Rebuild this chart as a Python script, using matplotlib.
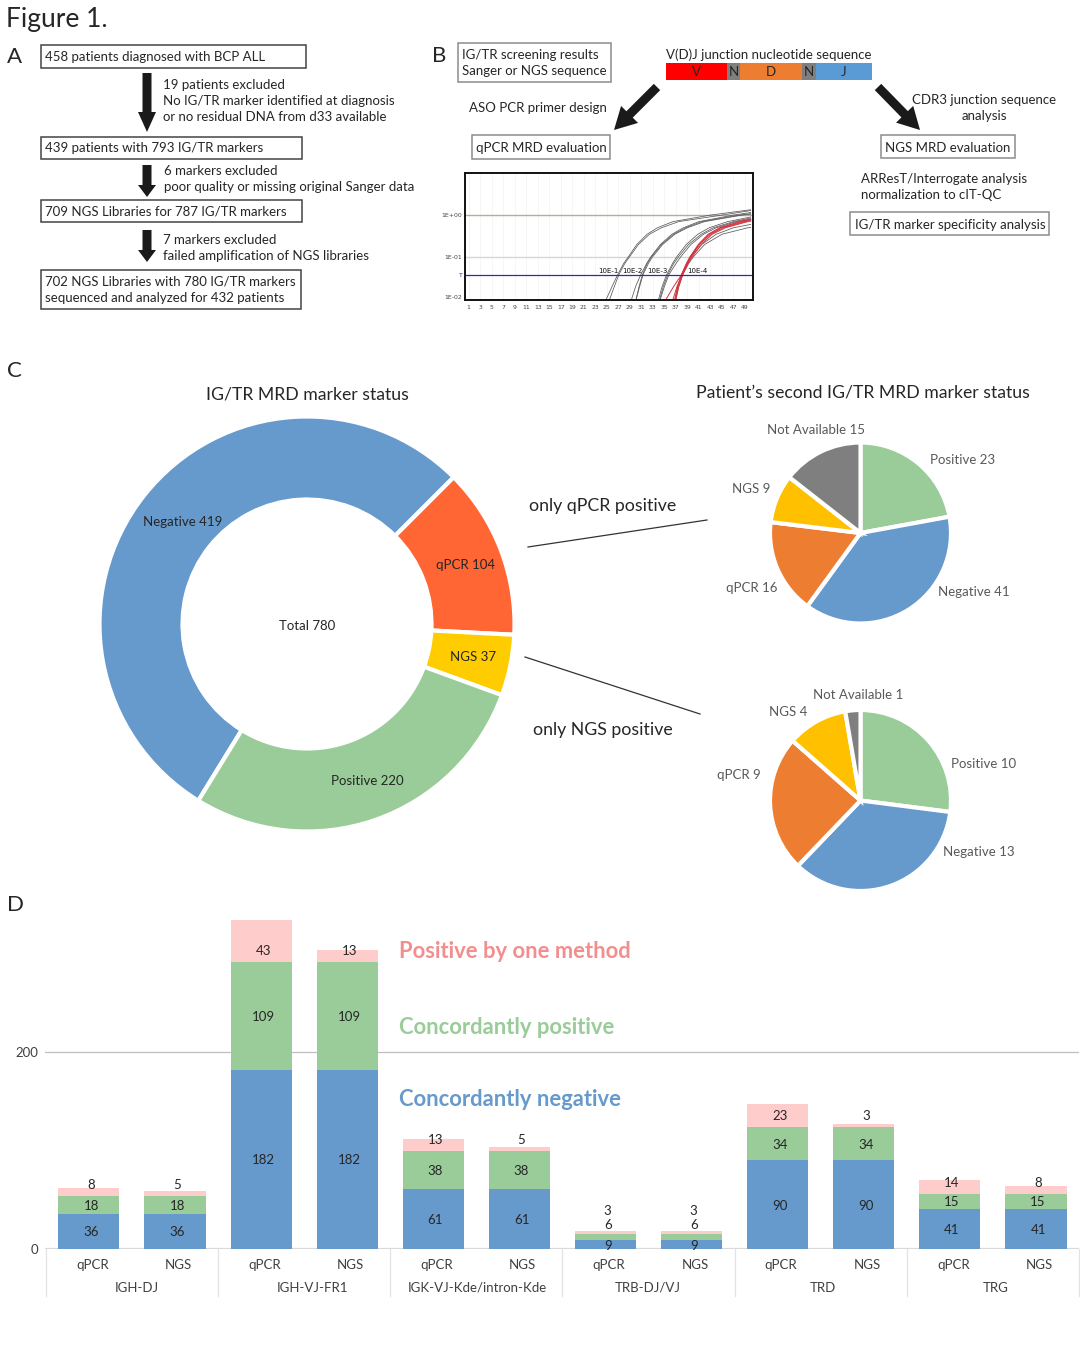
import numpy as np
import matplotlib
matplotlib.use('Agg')
import matplotlib.pyplot as plt
from matplotlib.patches import Rectangle, FancyArrow

plt.rcParams['font.family'] = ['Lato', 'DejaVu Sans']

W, H = 1080, 1347

# panel C
donut_names = ['Negative', 'qPCR', 'NGS', 'Positive']
donut_values = [419, 104, 37, 220]
pie1_names = ['Positive', 'Negative', 'qPCR', 'NGS', 'Not Available']
pie1_values = [23, 41, 16, 9, 15]
# the drawn slices of this pie do not quite follow its printed numbers
pie1_slices = [23, 39.4, 17.6, 9, 15]
pie2_values = [10, 13, 9, 4, 1]

# panel D
method_labels = ['qPCR', 'NGS'] * 6
group_labels = ['IGH-DJ', 'IGH-VJ-FR1', 'IGK-VJ-Kde/intron-Kde', 'TRB-DJ/VJ', 'TRD', 'TRG']
negative = [36, 36, 182, 182, 61, 61, 9, 9, 90, 90, 41, 41]
concordant = [18, 18, 109, 109, 38, 38, 6, 6, 34, 34, 15, 15]
one_method = [8, 5, 43, 13, 13, 5, 3, 3, 23, 3, 14, 8]

# panel B, amplification curves: cycle where each curve passes these levels
qpcr_levels = [0.01, 0.02, 0.0386, 0.07, 0.1, 0.2, 0.35, 0.5, 0.7, 1.0]
nan = np.nan
gray_curves = [
    ([24.9, 25.9, 26.9, 27.9, 28.7, 30.2, 32.0, 33.8, 36.5, 43.0], 1.34),
    ([25.5, 26.3, 27.1, 28.1, 28.9, 30.5, 32.4, 34.5, 37.5, 45.0], 1.28),
    ([29.3, 30.0, 30.9, 31.9, 32.6, 34.3, 36.3, 38.3, 41.0, 47.0], 1.15),
    ([30.1, 30.6, 31.2, 32.0, 32.7, 34.5, 36.6, 38.7, 41.5, 48.0], 1.08),
    ([30.1, 30.7, 31.3, 32.2, 32.9, 34.7, 36.8, 39.0, 42.0, 48.5], 1.05),
    ([34.0, 34.6, 35.4, 36.4, 37.1, 38.8, 40.8, 42.8, 46.0, nan], 0.90),
    ([34.2, 34.8, 35.6, 36.6, 37.4, 39.2, 41.4, 43.5, 47.0, nan], 0.85),
    ([34.3, 35.0, 35.8, 37.0, 37.8, 39.6, 41.8, 44.0, 47.5, nan], 0.80),
    ([36.9, 37.3, 38.0, 38.9, 39.6, 41.5, 44.0, 47.0, nan, nan], 0.60),
    ([37.0, 37.5, 38.2, 39.2, 40.0, 42.0, 45.0, 49.5, nan, nan], 0.51),
]
red_curves = [
    ([35.3, 36.6, 38.0, 38.9, 39.5, 41.0, 42.8, 44.8, 48.5, nan], 0.78),
    ([36.8, 37.3, 38.0, 38.8, 39.4, 40.9, 42.6, 44.6, 48.0, nan], 0.80),
    ([36.5, 37.2, 38.1, 39.0, 39.6, 41.1, 43.0, 45.2, 49.0, nan], 0.74),
    ([37.0, 37.5, 38.2, 39.1, 39.8, 41.4, 43.3, 45.6, 49.5, nan], 0.72),
]
qpcr_ticks = list(range(1, 50, 2))

fig = plt.figure(figsize=(W / 100, H / 100), dpi=100, facecolor='white')


def px_axes(x0, y0, x1, y1, **kw):
    # axes from pixel box, y counted from the top
    return fig.add_axes([x0 / W, 1 - y1 / H, (x1 - x0) / W, (y1 - y0) / H], **kw)


# overlay for text, boxes and arrows
ov = fig.add_axes([0, 0, 1, 1], zorder=5)
ov.set_xlim(0, W)
ov.set_ylim(H, 0)
ov.axis('off')
ov.patch.set_alpha(0)

TXT = '#262626'
BASE = 9.55


def label(x, y, s, size=BASE, color=TXT, ha='left', **kw):
    ov.text(x, y + 1, s, fontsize=size, color=color, ha=ha, va='center', **kw)


def box(x0, y0, x1, y1, color='#444444'):
    ov.add_patch(Rectangle((x0, y0), x1 - x0, y1 - y0, fill=False, ec=color, lw=1.1))


def arrow(x0, y0, x1, y1, width=9, head=18, head_len=17):
    ov.add_patch(FancyArrow(x0, y0, x1 - x0, y1 - y0, width=width, head_width=head,
                            head_length=head_len, length_includes_head=True,
                            color='#1a1a1a', lw=0))


label(6, 19, 'Figure 1.', size=19)
label(7, 56, 'A', size=16)
label(432, 55, 'B', size=16)
label(7, 370, 'C', size=16)
label(7, 904, 'D', size=16)

# panel A
box(41, 45, 306, 68)
label(45, 56, '458 patients diagnosed with BCP ALL')
box(41, 137, 302, 159)
label(45, 147, '439 patients with 793 IG/TR markers')
box(41, 200, 302, 222)
label(45, 211, '709 NGS Libraries for 787 IG/TR markers')
box(41, 270, 301, 309)
label(45, 281, '702 NGS Libraries with 780 IG/TR markers')
label(45, 297, 'sequenced and analyzed for 432 patients')
arrow(147, 73, 147, 132, head_len=20)
arrow(147, 165, 147, 197, head_len=12)
arrow(147, 230, 147, 262, head_len=12)
label(163, 84, '19 patients excluded')
label(163, 100, 'No IG/TR marker identified at diagnosis')
label(163, 116, 'or no residual DNA from d33 available')
label(164, 170, '6 markers excluded')
label(164, 186, 'poor quality or missing original Sanger data')
label(163, 239, '7 markers excluded')
label(163, 255, 'failed amplification of NGS libraries')

# panel B
GB = '#8c8c8c'
box(458, 43, 611, 82, GB)
label(462, 54, 'IG/TR screening results')
label(462, 70, 'Sanger or NGS sequence')
label(666, 54, 'V(D)J junction nucleotide sequence')
for x0, x1, c, s in [(666, 727, '#ff0000', 'V'), (727, 740, '#7f7f7f', 'N'), (740, 802, '#ed7d31', 'D'),
                     (802, 816, '#7f7f7f', 'N'), (816, 872, '#5b9bd5', 'J')]:
    ov.add_patch(Rectangle((x0, 63), x1 - x0, 17, color=c, lw=0))
    label((x0 + x1) / 2, 71.5, s, ha='center')
label(469, 107, 'ASO PCR primer design')
arrow(657, 87, 614, 130, width=9, head=24, head_len=22)
arrow(878, 87, 920, 130, width=9, head=24, head_len=22)
label(984, 99, 'CDR3 junction sequence', ha='center')
label(984, 115, 'analysis', ha='center')
box(472, 135, 610, 159, GB)
label(476, 147, 'qPCR MRD evaluation')
box(881, 135, 1015, 158, GB)
label(885, 147, 'NGS MRD evaluation')
label(861, 178, 'ARResT/Interrogate analysis')
label(861, 194, 'normalization to cIT-QC')
box(850, 212, 1049, 235, GB)
label(855, 224, 'IG/TR marker specificity analysis')

# amplification plot
aq = px_axes(465, 173, 753, 300)
aq.set_yscale('log')
aq.set_xlim(0.36, 50.4)
aq.set_ylim(0.0096, 10)
for x in qpcr_ticks:
    aq.axvline(x, color='#f3f3f3', lw=0.5, zorder=0)
aq.axhline(1, color='#b5ad9d', lw=1)
aq.axhline(0.1, color='#d5d5d5', lw=1)
for curves, c, lw in [(gray_curves, '#5a5a5a', 0.55), (red_curves, '#d8303c', 0.7)]:
    for cycles, end in curves:
        xs = np.array(cycles + [50.0])
        ys = np.array(qpcr_levels + [end])
        keep = ~np.isnan(xs)
        aq.plot(xs[keep], ys[keep], color=c, lw=lw)
aq.axhline(0.0386, color='#2a2ab5', lw=0.9)
for x, s in [(25.3, '10E-1'), (29.5, '10E-2'), (33.8, '10E-3'), (40.8, '10E-4')]:
    aq.text(x, 0.048, s, fontsize=5, ha='center', va='center', color='#111111', family='DejaVu Sans')
aq.set_xticks(qpcr_ticks)
aq.set_xticklabels([str(t) for t in qpcr_ticks], fontsize=4.4, color='#444444', family='DejaVu Sans')
aq.tick_params(axis='x', length=0, pad=3.5)
# the bottom label sits a little above the axis in the original
aq.set_yticks([1, 0.1, 0.0386, 0.0113])
aq.set_yticklabels(['1E+00', '1E-01', 'T', '1E-02'], fontsize=4.4, color='#444444', family='DejaVu Sans')
aq.get_yticklabels()[2].set_color('#2a2ab5')
aq.tick_params(axis='y', length=0, pad=2)
aq.minorticks_off()
for sp in aq.spines.values():
    sp.set_linewidth(1.4)
    sp.set_color('#111111')

# panel C
DONUT_COLORS = ['#6699cc', '#ff6633', '#ffcc00', '#99cc99']
PIE_COLORS = ['#99cc99', '#6699cc', '#ed7d31', '#ffc000', '#7f7f7f']

ad = px_axes(99.5, 416.5, 514.5, 831.5)
ad.pie(donut_values, colors=DONUT_COLORS, startangle=238.4, counterclock=False, radius=1,
       wedgeprops={'width': 83 / 207.5, 'edgecolor': 'white', 'linewidth': 3})
ad.set_xlim(-1, 1)
ad.set_ylim(-1, 1)

ap1 = px_axes(770, 442.5, 951, 623.5)
ap1.pie(pie1_slices, colors=PIE_COLORS, startangle=90, counterclock=False, radius=1,
        wedgeprops={'edgecolor': 'white', 'linewidth': 3})
ap1.set_xlim(-1, 1)
ap1.set_ylim(-1, 1)

ap2 = px_axes(770, 710, 951, 891)
ap2.pie(pie2_values, colors=PIE_COLORS, startangle=90, counterclock=False, radius=1,
        wedgeprops={'edgecolor': 'white', 'linewidth': 3})
ap2.set_xlim(-1, 1)
ap2.set_ylim(-1, 1)

label(307, 393, 'IG/TR MRD marker status', size=12.7, ha='center')
label(863, 391, 'Patient\u2019s second IG/TR MRD marker status', size=12.7, ha='center')
label(307, 625, 'Total 780', ha='center')
for (x, y), n, v in zip([(183, 521), (466, 564), (473, 656), (367, 780)], donut_names, donut_values):
    label(x, y, f'{n} {v}', ha='center')

PIE_TXT = '#595959'
for (x, y), n, v in zip([(963, 459), (974, 591), (752, 587), (751, 488), (816, 429)], pie1_names, pie1_values):
    label(x, y, f'{n} {v}', color=PIE_TXT, ha='center')
for (x, y), n, v in zip([(984, 763), (979, 851), (739, 774), (788, 711), (858, 694)], pie1_names, pie2_values):
    label(x, y, f'{n} {v}', color=PIE_TXT, ha='center')

label(603, 505, 'only qPCR positive', size=12.8, ha='center')
label(603, 729, 'only NGS positive', size=12.8, ha='center')
ov.plot([528, 707], [547, 520], color='#333333', lw=0.9)
ov.plot([525, 700], [657, 714], color='#333333', lw=0.9)

# panel D
ab = px_axes(45, 899, 1079, 1249)
x = np.arange(len(negative))
neg = np.array(negative)
con = np.array(concordant)
one = np.array(one_method)
BAR_W = 0.71
ab.bar(x, neg, BAR_W, color='#6699cc', zorder=2)
ab.bar(x, con, BAR_W, bottom=neg, color='#99cc99', zorder=2)
ab.bar(x, one, BAR_W, bottom=neg + con, color='#ffcccc', zorder=2)
ab.set_xlim(-0.51, 11.5)
ab.set_ylim(0, 355.3)
ab.axhline(200, color='#bfbfbf', lw=0.9, zorder=1)
ab.axhline(0, color='#d9d9d9', lw=1.6, zorder=1)
for sp in ab.spines.values():
    sp.set_visible(False)
ab.set_yticks([0, 200])
ab.set_yticklabels(['0', '200'], fontsize=BASE, color='#404040')
ab.tick_params(axis='y', length=0, pad=5)
ab.set_xticks(x + 0.04)
ab.set_xticklabels(method_labels, fontsize=BASE, color='#404040')
ab.tick_params(axis='x', length=0, pad=7)

LX = 0.025  # value labels sit a little right of the bar centres
for i in x:
    small = neg[i] < 10
    ab.annotate(str(neg[i]), (i + LX, neg[i] / 2), xytext=(0, -0.7), textcoords='offset points',
                ha='center', va='center', fontsize=BASE, color=TXT, zorder=3)
    # the thin TRB bars have their labels moved up by hand
    if small:
        ab.annotate(str(con[i]), (i + LX, neg[i]), xytext=(0, 11), textcoords='offset points',
                    ha='center', va='center', fontsize=BASE, color=TXT, zorder=3)
    else:
        ab.annotate(str(con[i]), (i + LX, neg[i] + con[i] / 2), xytext=(0, -0.7), textcoords='offset points',
                    ha='center', va='center', fontsize=BASE, color=TXT, zorder=3)
    ab.annotate(str(one[i]), (i + LX, neg[i] + con[i]), xytext=(0, 17 if small else 8), textcoords='offset points',
                ha='center', va='center', fontsize=BASE, color=TXT, zorder=3)

xt = ab.get_xaxis_transform()
for k in range(7):
    ab.plot([2 * k - 0.5] * 2, [0, -47 / 350], transform=xt, color='#e3e3e3', lw=0.9, clip_on=False)
for gx, g in zip([137, 312, 477, 648, 823, 996], group_labels):
    label(gx, 1287, g, color='#404040', ha='center')

label(399, 951, 'Positive by one method', size=15.85, color='#f28e8e', fontweight='bold')
label(399, 1027, 'Concordantly positive', size=15.85, color='#99cc99', fontweight='bold')
label(399, 1099, 'Concordantly negative', size=15.85, color='#6699cc', fontweight='bold')

fig.savefig('out.png', dpi=100)
